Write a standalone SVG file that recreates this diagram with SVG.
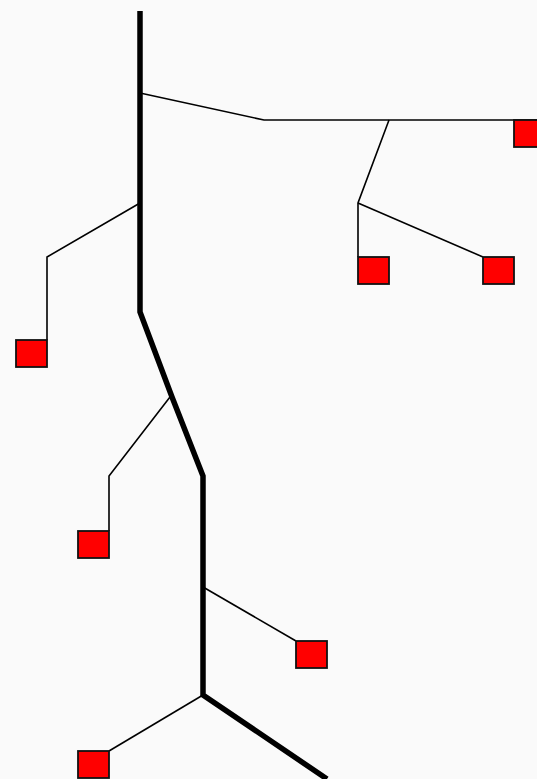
<svg xmlns="http://www.w3.org/2000/svg" width="537" height="779" viewBox="0 0 537 779">
<style>
.trunk{fill:none;stroke:#000;stroke-width:5.5;stroke-linejoin:miter}
.br{fill:none;stroke:#000;stroke-width:1.6;stroke-linejoin:miter}
.node{fill:#ff0000;stroke:#111;stroke-width:1.8}
</style>
<rect width="537" height="779" fill="#fafafa"/>
<g id="connectors">
<polyline class="trunk" points="140,11 140,312 172,397 203,476 203,695 327,779"/>
<polyline class="br" points="140,93 264,120 537,120"/>
<polyline class="br" points="389,120 358,203 358,257"/>
<polyline class="br" points="358,203 483,257"/>
<polyline class="br" points="140,203 47,257 47,340"/>
<polyline class="br" points="170,397 109,476 109,531"/>
<polyline class="br" points="203,587 296,641"/>
<polyline class="br" points="203,695 109,751"/>
</g>
<g id="n1"><rect class="node" x="514" y="120" width="25" height="27"/></g>
<g id="n2"><rect class="node" x="358" y="257" width="31" height="27"/></g>
<g id="n3"><rect class="node" x="483" y="257" width="31" height="27"/></g>
<g id="n4"><rect class="node" x="16" y="340" width="31" height="27"/></g>
<g id="n5"><rect class="node" x="78" y="531" width="31" height="27"/></g>
<g id="n6"><rect class="node" x="296" y="641" width="31" height="27"/></g>
<g id="n7"><rect class="node" x="78" y="751" width="31" height="27"/></g>
</svg>
